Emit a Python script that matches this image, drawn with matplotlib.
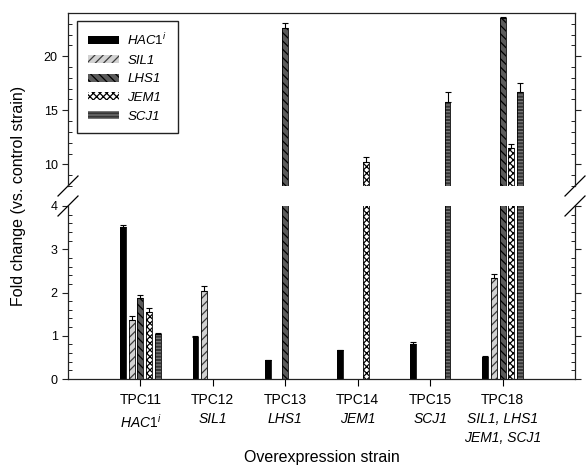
import numpy as np
import matplotlib
matplotlib.use("Agg")
import matplotlib.pyplot as plt
from matplotlib.ticker import MultipleLocator

plt.rcParams['font.family'] = ['Liberation Sans', 'DejaVu Sans']
plt.rcParams['mathtext.fontset'] = 'custom'
plt.rcParams['mathtext.rm'] = 'Liberation Sans'
plt.rcParams['mathtext.it'] = 'Liberation Sans:italic'
plt.rcParams['hatch.linewidth'] = 0.9

# data
strains = ['TPC11', 'TPC12', 'TPC13', 'TPC14', 'TPC15', 'TPC18']
strain_genes = [r'$\mathit{HAC1}^{\mathit{i}}$', 'SIL1', 'LHS1', 'JEM1', 'SCJ1', 'SIL1, LHS1\nJEM1, SCJ1']
series_names = [r'$\mathit{HAC1}^{\mathit{i}}$', 'SIL1', 'LHS1', 'JEM1', 'SCJ1']
nan = np.nan
hac1 = [3.52, 0.96, 0.45, 0.66, 0.82, 0.51]
hac1_err = [0.05, 0.04, 0.0, 0.0, 0.03, 0.03]
sil1 = [1.37, 2.04, nan, nan, nan, 2.34]
sil1_err = [0.08, 0.11, nan, nan, nan, 0.08]
lhs1 = [1.88, nan, 22.6, nan, nan, 23.5]
lhs1_err = [0.06, nan, 0.5, nan, nan, 0.1]
jem1 = [1.56, nan, nan, 10.2, nan, 11.5]
jem1_err = [0.09, nan, nan, 0.45, nan, 0.35]
scj1 = [1.05, nan, nan, nan, 15.8, 16.7]
scj1_err = [0.02, nan, nan, nan, 0.85, 0.85]

values = [hac1, sil1, lhs1, jem1, scj1]
errors = [hac1_err, sil1_err, lhs1_err, jem1_err, scj1_err]
# (face colour, hatch colour, hatch)
styles = [('black', 'black', None),
          ('#d2d2d2', '#3c3c3c', '////'),
          ('#5a5a5a', 'black', '\\\\\\\\'),
          ('white', 'black', 'xxxxx'),
          ('#353535', '#7a7a7a', '-----')]

fig = plt.figure(figsize=(5.86, 4.65), dpi=100)
ax_top = fig.add_axes([68/586, 1-186/465, 507/586, 173/465])
ax_bot = fig.add_axes([68/586, 1-379/465, 507/586, 173/465])

x = np.arange(1, len(strains) + 1)
pitch = 0.12
width = 0.082

handles = []
for ax in (ax_top, ax_bot):
    for i in range(5):
        xpos = x + (i - 2) * pitch
        face, hcol, hatch = styles[i]
        b = ax.bar(xpos, values[i], width, color=face, edgecolor=hcol, hatch=hatch, linewidth=0)
        ax.bar(xpos, values[i], width, fill=False, edgecolor='black', linewidth=0.6)
        err = np.array(errors[i])
        ax.errorbar(xpos, values[i], yerr=[np.zeros_like(err), err], fmt='none',
                    ecolor='black', elinewidth=0.8, capsize=2, capthick=0.8)
        if ax is ax_top:
            handles.append(b)

for ax in (ax_top, ax_bot):
    ax.set_xlim(0, 7)
    for s in ax.spines.values():
        s.set_color('#222222')
        s.set_linewidth(0.9)
    ax.tick_params(axis='y', which='major', direction='out', length=4, labelsize=9,
                   left=True, right=True, width=0.8, color='#222222')
    ax.tick_params(axis='y', which='minor', direction='in', length=3,
                   left=True, right=True, width=0.7, color='#222222')

ax_top.set_ylim(8, 24)
ax_top.yaxis.set_major_locator(MultipleLocator(5))
ax_top.yaxis.set_minor_locator(MultipleLocator(1))
ax_top.spines['bottom'].set_visible(False)
ax_top.tick_params(axis='x', which='both', bottom=False, labelbottom=False)

ax_bot.set_ylim(0, 4)
ax_bot.yaxis.set_major_locator(MultipleLocator(1))
ax_bot.yaxis.set_minor_locator(MultipleLocator(0.2))
ax_bot.spines['top'].set_visible(False)
ax_bot.set_xticks(x)
ax_bot.set_xticklabels(strains, fontsize=10)
ax_bot.tick_params(axis='x', direction='out', length=5, pad=5, width=0.8)

# second line of the tick labels (gene names, italic)
for xi, g in zip(x, strain_genes):
    ax_bot.annotate(g, xy=(xi, 0), xycoords=('data', 'axes fraction'),
                    xytext=(0, -24), textcoords='offset points',
                    ha='center', va='top', fontsize=10, style='italic',
                    linespacing=1.45)

# break marks
dx, dy = 10/507, 10/173
for ax, yb in ((ax_top, 0), (ax_bot, 1)):
    for xb in (0, 1):
        ax.plot([xb - dx, xb + dx], [yb - dy, yb + dy], transform=ax.transAxes,
                color='black', lw=0.9, clip_on=False)

ax_top.legend(handles, series_names, loc='upper left', bbox_to_anchor=(0.018, 0.954),
              borderaxespad=0, fancybox=False, edgecolor='#222222', framealpha=1,
              prop={'style': 'italic', 'size': 9.5}, handlelength=2.4, handleheight=0.55,
              labelspacing=0.5, borderpad=0.8, handletextpad=0.6)

fig.text(0.031, 0.578, 'Fold change (vs. control strain)', rotation=90,
         ha='center', va='center', fontsize=11.5)
fig.text(321.5/586, 1-457/465, 'Overexpression strain', ha='center', va='center', fontsize=11.5)

fig.savefig('out.png', dpi=100)
